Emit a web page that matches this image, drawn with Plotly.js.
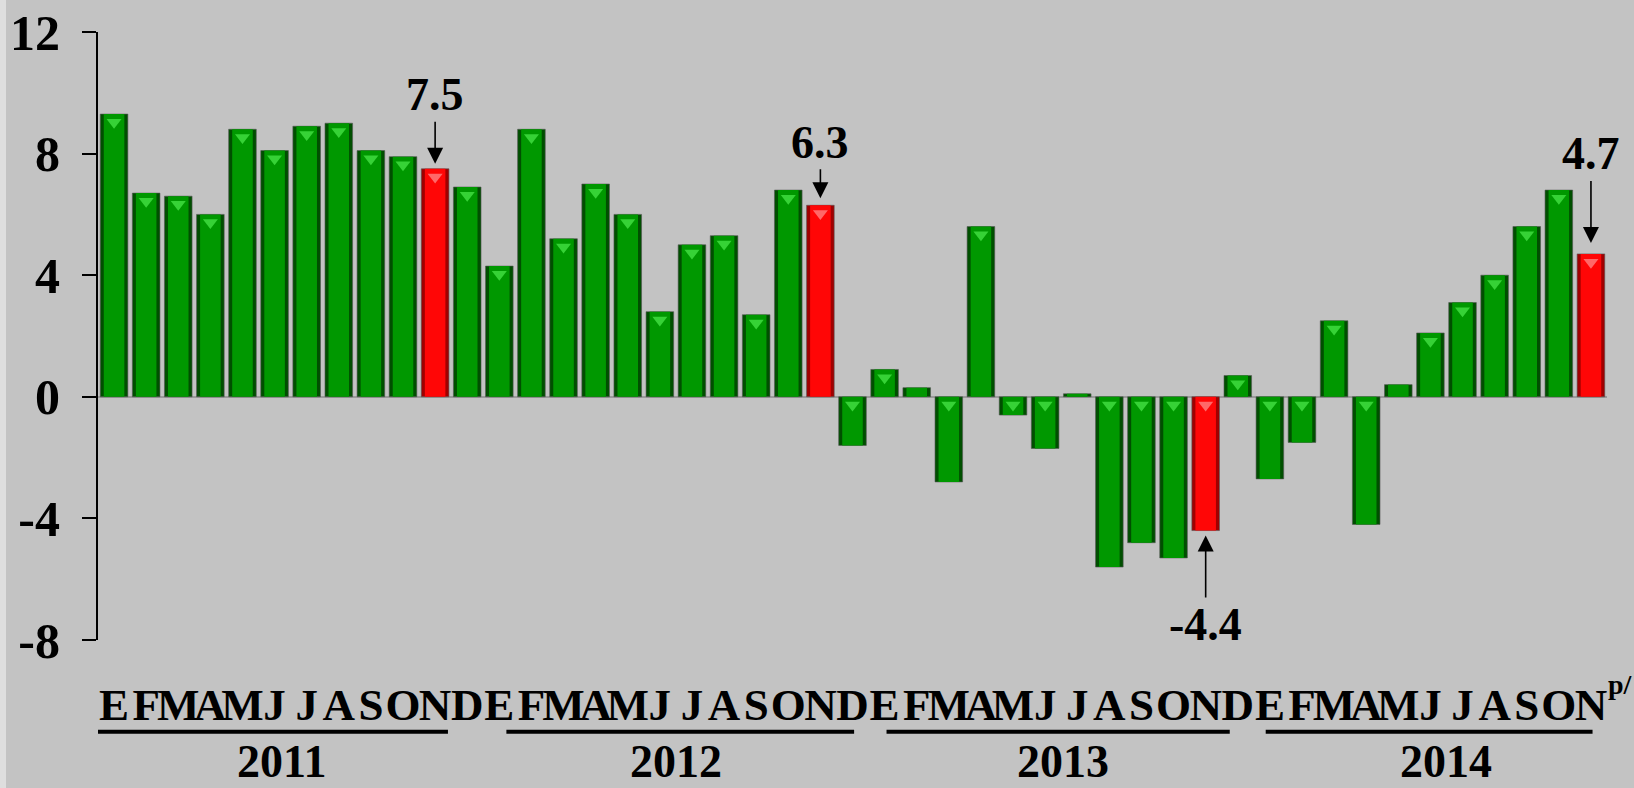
<!DOCTYPE html>
<html>
<head>
<meta charset="utf-8">
<script src="https://cdn.plot.ly/plotly-3.0.1.min.js"></script>
<style>
  html, body { margin: 0; padding: 0; background: #c3c3c3; }
  #chart { width: 1634px; height: 788px; }
</style>
</head>
<body>
<div id="chart"></div>
<script>
// ---- data ----
const months = ['E','F','M','A','M','J','J','A','S','O','N','D'];
const years = ['2011','2012','2013','2014'];
const values2011 = [9.3, 6.7, 6.6, 6.0, 8.8, 8.1, 8.9, 9.0, 8.1, 7.9, 7.5, 6.9];
const values2012 = [4.3, 8.8, 5.2, 7.0, 6.0, 2.8, 5.0, 5.3, 2.7, 6.8, 6.3, -1.6];
const values2013 = [0.9, 0.3, -2.8, 5.6, -0.6, -1.7, 0.1, -5.6, -4.8, -5.3, -4.4, 0.7];
const values2014 = [-2.7, -1.5, 2.5, -4.2, 0.4, 2.1, 3.1, 4.0, 5.6, 6.8, 4.7];
const yTickVals = [-8, -4, 0, 4, 8, 12];
const yTickText = ['-8', '-4', '0', '4', '8', '12'];
const highlightIndexInYear = 10;     // November bars are highlighted
const highlightLabels = ['7.5', '6.3', '-4.4', '4.7'];
const preliminaryMark = 'p/';

// ---- build ----
const series = [values2011, values2012, values2013, values2014];
const xs = [], ys = [], labels = [], isHL = [], yearStart = [];
series.forEach((vals) => {
  yearStart.push(xs.length);
  vals.forEach((v, i) => {
    xs.push(xs.length);
    ys.push(v);
    labels.push(months[i]);
    isHL.push(i === highlightIndexInYear);
  });
});

const FONT = 'Liberation Serif, Times New Roman, serif';
const outerColors = isHL.map(h => h ? '#a00000' : '#004f00');
const innerColors = isHL.map(h => h ? '#ff0606' : '#009800');
const bevelColors = isHL.map(h => h ? '#ff7a7a' : '#3fdc3f');

// bevel highlight triangles at the top end of each bar (skip very short bars)
const bevX = [], bevY = [], bevC = [];
xs.forEach(i => {
  if (Math.abs(ys[i]) >= 0.6) {
    bevX.push(i);
    bevY.push(Math.max(ys[i], 0) - 0.27);
    bevC.push(bevelColors[i]);
  }
});

const traces = [
  { type: 'bar', x: xs, y: ys, width: 0.86,
    marker: { color: outerColors, line: { color: '#555', width: 0.6 } },
    hoverinfo: 'skip', showlegend: false },
  { type: 'bar', x: xs, y: ys, width: 0.64,
    marker: { color: innerColors, line: { width: 0 } },
    hoverinfo: 'skip', showlegend: false },
  { type: 'scatter', mode: 'markers', x: bevX, y: bevY,
    marker: { symbol: 'triangle-down', size: 13, color: bevC, opacity: 0.85, line: { width: 0 } },
    hoverinfo: 'skip', showlegend: false, cliponaxis: false }
];

// highlight annotations
const hlIdx = xs.filter(i => isHL[i]);
const annOffsets = [
  { ay: -74, standoff: 5 },
  { ay: -63, standoff: 7 },
  { ay: 94, standoff: 5 },
  { ay: -100, standoff: 11 }
];
const annotations = hlIdx.map((i, k) => ({
  x: i, y: ys[i], xref: 'x', yref: 'y',
  text: highlightLabels[k],
  showarrow: true, arrowhead: 2, arrowsize: 2, arrowwidth: 1.6, arrowcolor: '#000',
  ax: 0, ay: annOffsets[k].ay, standoff: annOffsets[k].standoff,
  font: { family: FONT, size: 46, color: '#000', weight: 'bold' }
}));

// year labels and underlines (decoration offsets relative to each year's first month)
const yearLabelShift = [5.2, 5.5, 5.55, 5.5];
const lineStart = [-0.5, 0.22, 0.06, -0.13];
const lineEnd = [10.4, 11.05, 10.75, 10.05];
years.forEach((yr, k) => {
  annotations.push({
    x: yearStart[k] + yearLabelShift[k], y: -0.2, xref: 'x', yref: 'paper',
    text: yr, showarrow: false, yanchor: 'middle',
    font: { family: FONT, size: 46, color: '#000', weight: 'bold' }
  });
});
// preliminary mark after last label
annotations.push({
  x: xs[xs.length - 1], y: -0.073, xref: 'x', yref: 'paper',
  xshift: 30, text: preliminaryMark, showarrow: false, yanchor: 'middle',
  font: { family: FONT, size: 28, color: '#000', weight: 'bold' }
});

const shapes = years.map((yr, k) => ({
  type: 'line', xref: 'x', yref: 'paper',
  x0: yearStart[k] + lineStart[k], x1: yearStart[k] + lineEnd[k],
  y0: -0.151, y1: -0.151,
  line: { color: '#000', width: 4 }
}));
shapes.push({
  type: 'rect', xref: 'paper', yref: 'paper', layer: 'below',
  x0: -98 / 1509, x1: -92 / 1509, y0: -148 / 608, y1: 1 + 32 / 608,
  fillcolor: '#dedede', line: { width: 0 }
});

const layout = {
  width: 1634, height: 788,
  margin: { l: 98, r: 27, t: 32, b: 148 },
  paper_bgcolor: '#c3c3c3', plot_bgcolor: '#c3c3c3',
  barmode: 'overlay', showlegend: false,
  xaxis: {
    range: [-0.5, 46.5], tickmode: 'array', tickvals: xs, ticktext: labels,
    tickangle: 0, ticks: '', showline: false, showgrid: false, zeroline: false,
    ticklabelstandoff: 34,
    tickfont: { family: FONT, size: 45, color: '#000', weight: 'bold' }
  },
  yaxis: {
    range: [-8, 12], tickmode: 'array', tickvals: yTickVals, ticktext: yTickText,
    ticks: 'outside', ticklen: 14, tickwidth: 2, tickcolor: '#000',
    ticklabelstandoff: 12,
    showline: true, linecolor: '#000', linewidth: 2, showgrid: false,
    zeroline: true, zerolinecolor: '#9a9a9a', zerolinewidth: 1.5,
    tickfont: { family: FONT, size: 50, color: '#000', weight: 'bold' }
  },
  annotations: annotations,
  shapes: shapes
};

Plotly.newPlot('chart', traces, layout, { displayModeBar: false, staticPlot: true });
</script>
</body>
</html>
